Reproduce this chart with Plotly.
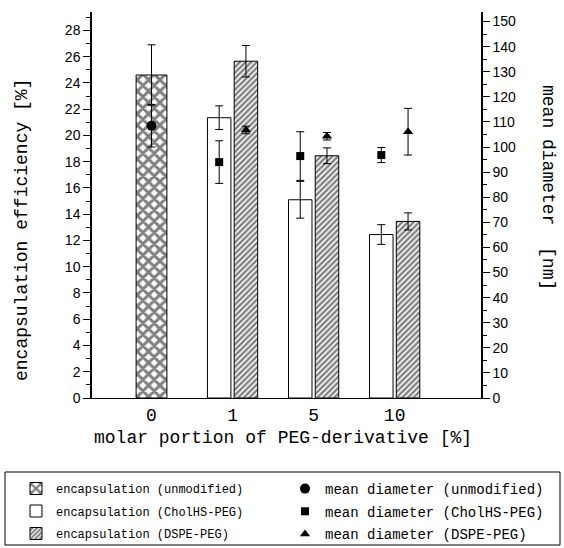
import plotly.graph_objects as go

# ---------------- data ----------------
categories = ["0", "1", "5", "10"]

enc_unmod = [24.6, None, None, None]
enc_unmod_err = [2.3, None, None, None]
enc_chol = [None, 21.35, 15.1, 12.45]
enc_chol_err = [None, 0.9, 1.4, 0.75]
enc_dspe = [None, 25.65, 18.45, 13.45]
enc_dspe_err = [None, 1.2, 0.6, 0.65]

diam_unmod = [108.5, None, None, None]
diam_unmod_err = [8.5, None, None, None]
diam_chol = [None, 94.0, 96.4, 96.8]
diam_chol_err = [None, 8.5, 9.7, 3.0]
diam_dspe = [None, 106.8, 104.3, 106.1]
diam_dspe_err = [None, 1.5, 1.5, 9.3]

left_ticks = list(range(0, 29, 2))
right_ticks = list(range(0, 151, 10))

# ---------------- layout constants ----------------
idx = list(range(len(categories)))
W_UNMOD = 0.38
W_PAIR = 0.29
GAP = 0.02
OFF_CHOL = -GAP - W_PAIR
OFF_DSPE = GAP
X_CHOL = [i + OFF_CHOL + W_PAIR / 2 for i in idx]
X_DSPE = [i + OFF_DSPE + W_PAIR / 2 for i in idx]

MONO = "Liberation Mono, Courier New, monospace"
SANS = "Liberation Sans, Arial, sans-serif"

# plot-area geometry in pixels (used to convert to paper coords)
L, R, T, B = 92, 83, 12, 150
PW, PH = 564 - L - R, 548 - T - B


def px_x(px):
    return (px - L) / PW


def px_y(py):
    return (548 - B - py) / PH


fig = go.Figure()

err_bar = dict(type="data", color="black", thickness=1, width=4, visible=True)

fig.add_trace(go.Bar(
    x=idx, y=enc_unmod, width=W_UNMOD, offset=-W_UNMOD / 2,
    name="encapsulation (unmodified)", legend="legend", legendgroup="a",
    marker=dict(color="white", line=dict(color="black", width=1),
                pattern=dict(shape="x", fgcolor="black", bgcolor="white",
                             size=8, solidity=0.6, fillmode="overlay")),
    error_y=dict(array=enc_unmod_err, **err_bar),
))
fig.add_trace(go.Bar(
    x=idx, y=enc_chol, width=W_PAIR, offset=OFF_CHOL,
    name="encapsulation (CholHS-PEG)", legend="legend", legendgroup="b",
    marker=dict(color="white", line=dict(color="black", width=1)),
    error_y=dict(array=enc_chol_err, **err_bar),
))
fig.add_trace(go.Bar(
    x=idx, y=enc_dspe, width=W_PAIR, offset=OFF_DSPE,
    name="encapsulation (DSPE-PEG)", legend="legend", legendgroup="c",
    marker=dict(color="white", line=dict(color="black", width=1),
                pattern=dict(shape="/", fgcolor="black", bgcolor="white",
                             size=4, solidity=0.6, fillmode="overlay")),
    error_y=dict(array=enc_dspe_err, **err_bar),
))

fig.add_trace(go.Scatter(
    x=idx, y=diam_unmod, yaxis="y2", mode="markers",
    name="mean diameter (unmodified)", legend="legend2", legendgroup="d",
    marker=dict(symbol="circle", size=10, color="black"),
    error_y=dict(array=diam_unmod_err, **err_bar),
))
fig.add_trace(go.Scatter(
    x=X_CHOL, y=diam_chol, yaxis="y2", mode="markers",
    name="mean diameter (CholHS-PEG)", legend="legend2", legendgroup="e",
    marker=dict(symbol="square", size=8, color="black"),
    error_y=dict(array=diam_chol_err, **err_bar),
))
fig.add_trace(go.Scatter(
    x=X_DSPE, y=diam_dspe, yaxis="y2", mode="markers",
    name="mean diameter (DSPE-PEG)", legend="legend2", legendgroup="f",
    marker=dict(symbol="triangle-up", size=9, color="black"),
    error_y=dict(array=diam_dspe_err, **err_bar),
))

legend_common = dict(
    orientation="v", yanchor="top", xanchor="left",
    bgcolor="rgba(0,0,0,0)", borderwidth=0, traceorder="grouped",
)

fig.update_layout(
    width=564, height=548,
    margin=dict(l=L, r=R, t=T, b=B, autoexpand=False),
    paper_bgcolor="white", plot_bgcolor="white",
    barmode="overlay",
    showlegend=True,
    font=dict(family=MONO, color="black"),
    xaxis=dict(
        range=[-0.734, 4.065], tickmode="array", tickvals=idx, ticktext=categories,
        ticks="", showgrid=False, zeroline=False, showline=True,
        linecolor="black", linewidth=1,
        tickfont=dict(family=MONO, size=18, color="black"),
    ),
    yaxis=dict(
        range=[0, 29.4], tickmode="array", tickvals=left_ticks,
        ticks="outside", ticklen=7, tickwidth=1, tickcolor="black",
        minor=dict(dtick=1, ticks="outside", ticklen=4, tickcolor="black"),
        showgrid=False, zeroline=False, showline=True,
        linecolor="black", linewidth=1.5,
        tickfont=dict(family=SANS, size=14, color="black"),
    ),
    yaxis2=dict(
        range=[0, 153.8], overlaying="y", side="right",
        tickmode="array", tickvals=right_ticks,
        ticks="outside", ticklen=7, tickwidth=1, tickcolor="black",
        minor=dict(dtick=5, ticks="outside", ticklen=4, tickcolor="black"),
        showgrid=False, zeroline=False, showline=True,
        linecolor="black", linewidth=1.5,
        tickfont=dict(family=SANS, size=14, color="black"),
    ),
    legend=dict(x=px_x(16), y=px_y(474), tracegroupgap=3.5,
                font=dict(family=MONO, size=12, color="black"), **legend_common),
    legend2=dict(x=px_x(285), y=px_y(473), tracegroupgap=1.5,
                 font=dict(family=MONO, size=14, color="black"), **legend_common),
    shapes=[
        dict(type="rect", xref="paper", yref="paper",
             x0=px_x(5), x1=px_x(560), y0=px_y(472), y1=px_y(545),
             line=dict(color="black", width=1), fillcolor="rgba(0,0,0,0)"),
    ],
    annotations=[
        dict(text="encapsulation efficiency [%]", xref="paper", yref="paper",
             x=px_x(22), y=px_y(230), xanchor="center", yanchor="middle",
             textangle=-90, showarrow=False,
             font=dict(family=MONO, size=18, color="black")),
        dict(text="mean diameter  [nm]", xref="paper", yref="paper",
             x=px_x(548), y=px_y(187), xanchor="center", yanchor="middle",
             textangle=90, showarrow=False,
             font=dict(family=MONO, size=18, color="black")),
        dict(text="molar portion of PEG-derivative [%]", xref="paper", yref="paper",
             x=px_x(283), y=px_y(438), xanchor="center", yanchor="middle",
             showarrow=False,
             font=dict(family=MONO, size=18, color="black")),
    ],
)

fig.write_html("out.html")
